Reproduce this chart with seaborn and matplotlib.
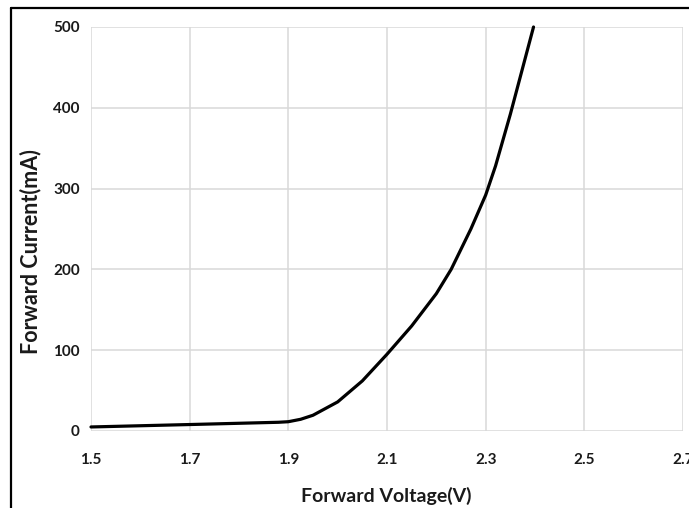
import matplotlib
matplotlib.use("Agg")
import matplotlib.pyplot as plt
from matplotlib.lines import Line2D
import seaborn as sns
import pandas as pd

# Forward voltage (V) vs forward current (mA)
voltage = [1.5, 1.7, 1.88, 1.9, 1.925, 1.95, 2.0, 2.05, 2.1, 2.15, 2.2, 2.23,
           2.27, 2.3, 2.32, 2.35, 2.397]
current = [5, 8, 10.8, 11.5, 14.5, 19.5, 36, 62, 95, 130, 170, 200,
           250, 292, 328, 392, 500]

x_ticks = [1.5, 1.7, 1.9, 2.1, 2.3, 2.5, 2.7]
x_tick_labels = ["1.5", "1.7", "1.9", "2.1", "2.3", "2.5", "2.7"]
y_ticks = [0, 100, 200, 300, 400, 500]
y_tick_labels = ["0", "100", "200", "300", "400", "500"]

df = pd.DataFrame({"Voltage": voltage, "Current": current})

sns.set_theme(style="whitegrid")
plt.rcParams["font.family"] = ["Lato", "DejaVu Sans"]

fig = plt.figure(figsize=(6.89, 5.08), dpi=100)
ax = fig.add_axes([91 / 689, 77 / 508, 592 / 689, 404 / 508])

sns.lineplot(data=df, x="Voltage", y="Current", ax=ax, color="black",
             linewidth=2.3, clip_on=False, solid_joinstyle="round",
             solid_capstyle="round")

ax.set_xlim(1.5, 2.7)
ax.set_ylim(0, 500)
ax.set_xticks(x_ticks)
ax.set_xticklabels(x_tick_labels)
ax.set_yticks(y_ticks)
ax.set_yticklabels(y_tick_labels)

for lbl in ax.get_xticklabels() + ax.get_yticklabels():
    lbl.set_fontweight("bold")
    lbl.set_fontsize(11)
    lbl.set_color("#1a1a1a")

ax.tick_params(axis="x", pad=16, length=0)
ax.tick_params(axis="y", pad=8, length=0)

ax.grid(True, color="#d9d9d9", linewidth=1.1)
for side in ["top", "right", "left", "bottom"]:
    ax.spines[side].set_visible(False)
ax.set_axisbelow(True)

ax.set_xlabel("Forward Voltage(V)", fontsize=14, fontweight="bold",
              color="#1a1a1a", va="center", ha="center")
ax.set_ylabel("Forward Current(mA)", fontsize=15.5, fontweight="bold",
              color="#1a1a1a", va="center", ha="center")
ax.xaxis.set_label_coords(0.499, -0.161)
ax.yaxis.set_label_coords(-0.103, 0.445)

# Outer frame: left and top edges
fig.add_artist(Line2D([11 / 689, 11 / 689], [0, 1 - 7.5 / 508],
                      transform=fig.transFigure, color="black", linewidth=1.6))
fig.add_artist(Line2D([11 / 689, 1], [1 - 7.5 / 508, 1 - 7.5 / 508],
                      transform=fig.transFigure, color="black", linewidth=1.6))

fig.savefig("out.png", dpi=100)
